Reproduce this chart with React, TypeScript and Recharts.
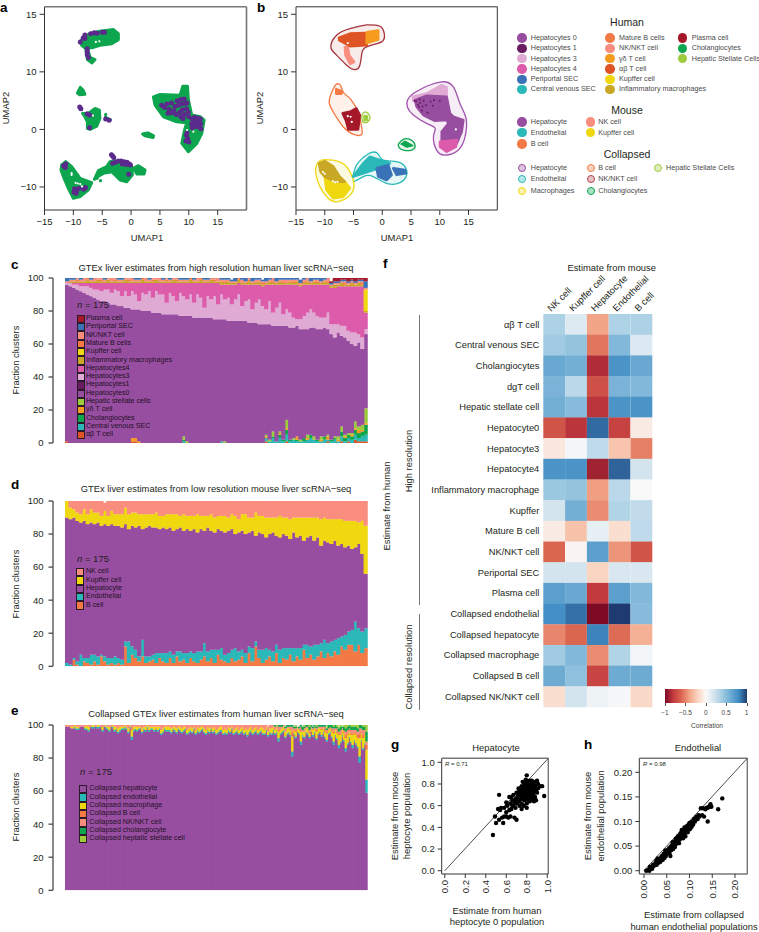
import React from 'react'
import {
  BarChart, Bar, Cell, ScatterChart, Scatter, XAxis, YAxis, ReferenceLine,
} from 'recharts'

// palette shared by the umap panels, stacked bars and legends
const COL = {
  hep0: '#984ea0', hep1: '#6a1b62', hep3: '#dfaad4', hep4: '#dc5cab', peri: '#3a72b8', cv: '#2bb8b8',
  matB: '#f47a45', nk: '#f98d7e', gd: '#f59c1f', ab: '#df5424', kup: '#efd80f', infl: '#c9a825',
  plasma: '#a5182a', chol: '#0da54e', hsc: '#9ccb3c',
}

// ---- panel a: the printed y axis runs 15, 10, 0, -10 at equal spacing, so 20 on the scale is labelled 15
const umapXTicks = [-15, -10, -5, 0, 5, 10, 15]
const umapYTicks = [-10, 0, 10, 20]
const umapYLabels = ['−10', '0', '10', '15']

const greenTop = [[-8.84,15.2],[-8.27,15.95],[-7.1,16.65],[-5.4,17.05],[-3.06,17.34],[-2.2,16.65],[-2.2,15.6],[-3.35,14.9],[-5.4,14.6],[-6.8,14.16],[-7.2,14.3],[-7.46,13.76],[-7.1,12.5],[-6.24,12.14],[-6.8,11.56],[-7.57,12.14],[-7.86,14.05],[-8.55,14.6]]
const greenSmall = [[-9.3,6.3],[-8.8,7.3],[-8.3,6.8],[-8,6.1],[-8.9,6]]
const greenMid = [[-8.4,2.8],[-7.6,2.66],[-6.24,3.64],[-5.5,3.35],[-5.4,1.9],[-5.95,0.58],[-7.1,0],[-7.57,0.17],[-7.57,1.33],[-8,2.2]]
const greenHep = [[3.87,5.66],[5.03,6.07],[8.5,5.95],[8.96,7.5],[9.77,7.5],[9.94,5.09],[10.5,2.49],[11.97,2.2],[12.66,1.62],[12.25,-0.69],[11.39,-2.43],[9.94,-3.87],[8.79,-2.43],[9.2,-0.4],[9.65,1.16],[7.92,1.33],[5.6,2.2],[4.16,4.22]]
const greenChol = [[2,-0.8],[2.9,-0.6],[3.9,-1.1],[3.8,-1.4],[2.4,-1.1]]
const greenKup = [[-12.02,-6.18],[-11.33,-5.6],[-10.29,-6.47],[-8.84,-8.5],[-6.82,-9.25],[-7.4,-10.5],[-8.84,-11.68],[-10,-11.97],[-10.87,-10.23],[-11.73,-8.2],[-12.14,-7.05]]
const greenEndo = [[-6.36,-8.67],[-5.66,-7.17],[-4.22,-6.47],[-3.64,-5.6],[-2.77,-5.43],[-0.75,-5.9],[0.12,-6.47],[0.23,-7.9],[-0.75,-9.08],[-1.9,-8.79],[-3.35,-7.34],[-4.8,-7.63],[-5.8,-8.2]]
const greenEndo2 = [[0.4,-6.76],[1.27,-6.3],[2.43,-7.05],[2.25,-7.75],[1,-7.75]]
const greenDots = [[-4.4,2.6],[-4.4,2.2],[-4,1.9],[-3.6,1.7],[-4.2,1.8],[-3.4,-4.3],[-5.3,-8.9],[-5.9,-8.5]]
const purpleDots = [[5.3,4.2],[5.8,3.8],[6.2,4.4],[6.6,3.5],[7,4.6],[7.4,3.2],[7.6,4],[8,5],[8.2,4.2],[8.6,5.2],[8.8,4.4],[9.2,5.3],[9.4,4.5],[6.4,2.8],[7,2.9],[7.8,2.6],[8.4,3],[8.6,2.2],[9,1.9],[9.2,2.6],[8.9,3.4],[9.6,3.6],[9.9,3],[10,2.2],[9.7,4.6],[10.6,1.8],[11,2.1],[11.5,2],[12,1.8],[10.5,1],[11,1.3],[11.6,1.2],[12.1,1],[10.6,0.3],[11.2,0.5],[11.8,0.4],[12.1,0.1],[9.6,-1],[9.8,-1.6],[9.5,-2],[10,-2.2],[9.7,-0.6],[-2.7,-5.7],[-2.2,-5.5],[-1.7,-5.5],[-1.2,-5.6],[-0.7,-5.7],[-0.3,-6],[-0.1,-6.2],[-1.5,-6],[-0.8,-6.1],[-3.2,-5.9],[-3.4,-4.4],[-3.2,-4.6],[-3,-4.9],[-0.4,-7.8],[-11.7,-6.3],[-11.3,-6],[-11.4,-6.6],[-9.8,-10.3],[-9.4,-10.6],[-9.9,-10.9],[-9.5,-11.1],[-9,-10.2],[-8.2,-10.4],[-7.9,-10.1],[-8,16.4],[-7,16.6],[-6.4,16.8],[-5.9,16.7],[-5,16.9],[-4.6,16.9],[-8,15.8],[-7.6,14],[-7.6,13.5],[-7.6,13],[-7.4,12.5],[-8.8,15.2],[-8.3,15.9],[-8.9,3.9],[-8.7,3.6],[-7.6,2.7],[-7.2,2.5],[-7.2,0.3],[-4.4,1.8],[-3.8,1.6]]
const whiteFlecks = [[-10.3,-7.6],[-10.3,-7.9],[-9.2,-9.4],[-8.8,-9.5],[-8.5,-9.9],[-6.6,2.4],[10.8,-0.4],[9.7,-0.1],[-6.1,15.2],[-5.5,15.3],[-9.6,-9.3]]

// ---- panel b outlines (first point repeated to close) and inner clouds, in umap coordinates
const hullNk = [[-2.73,18.15],[-0.41,17.92],[0.35,16.65],[-0.12,15.2],[-2.73,14.34],[-3.6,12.9],[-4,10.87],[-4.93,10.4],[-6.2,11.16],[-7.95,12.9],[-8.94,14.34],[-7.95,16.36],[-5.63,17.5],[-2.73,18.15]]
const hullB = [[-5.6,5.4],[-4.2,3.06],[-3.6,0.46],[-3.6,-0.87],[-5,-0.87],[-6.8,0.46],[-8.2,2.5],[-9.2,4.5],[-8.9,6.2],[-8.05,7.8],[-7.25,7.6],[-6.8,6.5],[-5.6,5.4]]
const hullStellate = [[-3.54,2.5],[-3,3.06],[-2.25,2.5],[-2.25,1.6],[-3,1.16],[-3.5,1.6],[-3.54,2.5]]
const hullHep = [[7.7,7.5],[10.3,8.27],[12.36,7.4],[13.5,4.5],[14.57,1.9],[14.4,-1.27],[13.2,-3.6],[10.9,-4.45],[9.46,-3.6],[8.9,-1.27],[9.2,0.17],[7.7,1.04],[5.4,2.5],[4.35,3.9],[4.4,5.1],[5.4,6.24],[7.7,7.5]]
const hullChol = [[2.79,-2.54],[3.66,-1.73],[4.82,-1.73],[5.69,-2.72],[5.1,-3.58],[3.66,-3.58],[2.9,-3.12],[2.79,-2.54]]
const hullEndo = [[-3.3,-4.86],[-1.86,-3.99],[-0.7,-4.28],[0.17,-5.32],[2.5,-5.6],[3.95,-6.47],[4.24,-7.92],[3.08,-9.25],[0.75,-9.36],[-1.57,-8.2],[-3.3,-8.2],[-5,-9.08],[-5.05,-7.92],[-4.47,-6.19],[-3.3,-4.86]]
const hullMac = [[-8.53,-5.32],[-6.5,-6.19],[-5.05,-8.79],[-5.34,-11.1],[-7.66,-12.54],[-9.4,-11.97],[-10.85,-9.94],[-11.55,-7.63],[-11.43,-6.19],[-10.56,-5.32],[-8.53,-5.32]]

const cloudAb = [[-7.5,15.95],[-5.6,16.65],[-3,16.76],[-2.7,14.6],[-5.6,14.45],[-7.5,15.5]]
const cloudGd = [[-2.7,16.9],[-0.7,17.2],[-0.7,15.6],[-2.7,15]]
const cloudNkTail = [[-6.5,14.3],[-6,14.3],[-5.75,12.9],[-4.9,11.7],[-5.6,11.4],[-6.4,12.9]]
const cloudMatB = [[-8,7],[-7,6.6],[-7.1,6.2],[-8,6.2]]
const cloudPlasma = [[-6.9,2.8],[-5.6,3.06],[-4.5,3.64],[-3.9,2.5],[-4.2,0],[-5.9,0],[-6.3,1.5]]
const cloudStellate = [[-3.2,2.4],[-2.6,2.4],[-2.5,1.6],[-3.2,1.5]]
const cloudHep3 = [[5.28,5.66],[7.72,6.24],[10.33,7.69],[11.2,7.28],[11.2,5.66],[7.72,5.66],[5.4,4.97]]
const cloudHep0 = [[5.69,5.09],[7.72,5.84],[11.2,5.66],[11.78,2.77],[12.36,2.2],[14.1,1.62],[13.81,-0.4],[12.94,-2.43],[10.33,-2.43],[10.33,-0.4],[11.49,1.04],[11.2,1.62],[9.17,1.5],[7.14,2.49],[5.98,3.93]]
const cloudHep4 = [[10.04,-2.14],[12.94,-1.85],[12.83,-3],[11.2,-3.87],[10.04,-3]]
const cloudChol = [[3.2,-2.54],[3.95,-2],[5.4,-2.83],[4.24,-3.12]]
const cloudCv = [[-5.05,-8.2],[-3.3,-5.9],[-2.15,-4.74],[1.33,-5.9],[-0.7,-6.76],[-3.3,-7.63]]
const cloudPeri1 = [[-1,-6.76],[1.04,-6.2],[1.63,-7.9],[0.75,-8.8],[-0.7,-8.2]]
const cloudPeri2 = [[1.9,-6.76],[3.95,-7.05],[4.12,-7.63],[2.5,-7.9]]
const cloudInfl = [[-11,-5.9],[-10,-5.5],[-8.5,-6.47],[-7.4,-8.2],[-6.5,-9.08],[-8.24,-9.08],[-10,-8.2],[-10.74,-7.34]]
const cloudKup = [[-8.53,-9.08],[-6.5,-9.08],[-5.63,-10.23],[-6.8,-11.68],[-8.53,-11.97],[-9.7,-10.5],[-10,-8.2]]
const darkDots = [[5.9,4.9],[6.6,4.6],[7.2,5],[7.6,4.2],[8.4,4.8],[6.4,3.9],[9,5.1],[10,5],[6.9,3.3],[7.9,2.9],[6.2,4.3],[8.8,4.1],[7,4],[5.6,5],[6.5,5.2]]
const flecksB = [[-10.3,-7.4],[-10,-7.7],[-8.6,-9],[-8.2,-9.2],[-7.8,-9.1],[-6,2.3],[-5.5,2.2],[-5.3,1.3],[-6,15],[12.8,0],[6,-8.1]]

// ---- panel c, 88 columns read left to right
const abT = [1,0,0,0,0,0,0,0,0,0,0,0,0,0,0,0,0,0,0,1,1,0,0,0,0,0,0,0,0,0,0,0,0,0,0,0,0,0,0,0,0,0,0,0,0,0,0,0,0,0,0,0,0,0,0,0,0,0,1,0,0,0,0,0,1,0,0,0,0,0,0,0,0,0,0,0,1,0,0,0,1,0,1,0,2,1,1,1]
const centralVenous = [0,0,0,0,0,0,0,0,0,0,0,0,0,0,0,0,0,0,0,0,0,0,0,0,0,0,0,0,0,0,0,0,0,0,1,0,0,0,0,0,0,0,0,0,0,1,0,0,0,0,0,0,0,0,0,0,0,0,2,1,3,1,3,1,4,1,2,1,1,1,2,3,2,1,1,2,1,1,2,1,3,1,2,2,3,2,3,4]
const cholangio = [0,0,0,0,0,0,0,0,0,0,0,0,0,0,0,0,0,0,0,0,0,0,0,0,0,0,0,0,0,0,0,0,0,0,1,0,0,0,0,0,0,0,0,0,0,0,0,0,0,0,0,0,0,0,0,0,0,0,0,0,1,0,2,1,3,1,0,1,0,2,0,2,0,1,0,2,0,1,1,0,3,2,2,2,3,3,3,6]
const gdT = [0,0,0,0,0,0,0,0,0,0,0,0,0,0,0,0,0,0,0,2,2,1,0,0,0,0,0,0,0,0,0,0,0,0,0,0,0,0,0,0,0,0,0,0,0,0,0,0,0,0,0,0,0,0,0,0,0,0,1,0,0,0,1,0,1,0,0,2,0,0,1,0,0,0,1,0,2,0,0,1,0,1,0,1,1,2,1,1]
const stellate = [0,0,0,0,0,0,0,0,0,0,0,0,0,0,0,0,0,0,0,0,0,0,0,0,0,0,0,0,0,0,0,0,0,0,2,1,0,0,0,0,0,0,0,0,0,0,1,0,0,0,0,0,0,0,0,0,0,0,1,1,3,0,1,0,5,0,1,0,1,0,2,0,2,0,2,0,1,0,1,2,3,1,1,1,4,2,3,9]
const hep0 = [95,95,94,93,92,91,90,89,88,87,86,86,85,84,84,83,83,82,82,78,78,80,80,80,80,79,79,79,78,78,78,78,78,77,73,76,77,76,76,76,76,76,76,75,75,74,74,74,74,74,74,74,74,73,73,73,72,72,67,70,64,70,64,69,57,68,67,67,67,66,64,65,66,67,65,66,64,64,60,63,55,59,56,54,46,51,46,45]
const hep1 = [0,0,0,0,0,0,0,0,0,0,0,0,0,0,0,0,0,0,0,0,0,0,0,0,0,0,0,0,0,0,0,0,0,0,0,0,0,0,0,0,0,0,0,0,0,0,0,0,0,0,0,0,0,0,0,0,0,0,0,0,0,0,0,0,0,0,0,0,0,0,0,0,0,0,0,0,0,0,0,0,0,0,0,0,0,0,0,0]
const hep3 = [1,2,2,3,3,4,5,5,5,6,6,7,8,7,9,9,6,10,7,11,9,5,11,10,12,9,13,11,12,7,13,11,8,14,12,10,13,9,14,12,6,13,11,14,9,15,12,14,10,13,16,9,12,14,8,12,15,11,9,14,8,11,14,7,10,9,6,4,6,8,10,11,9,8,7,6,10,6,8,5,6,7,6,7,8,5,7,3]
const hep4 = [0,0,1,1,2,2,2,3,4,4,5,4,4,6,4,5,8,5,8,5,7,11,6,7,5,9,5,7,7,12,6,8,11,6,8,10,7,12,7,9,15,8,10,8,13,6,9,8,12,9,7,13,10,9,15,11,9,12,15,10,17,14,11,18,15,17,20,21,20,19,17,15,17,19,20,20,17,22,22,23,24,24,27,28,28,29,31,10]
const inflMac = [0,1,1,1,1,1,2,1,1,2,1,1,2,1,1,1,1,2,1,1,1,1,2,1,1,1,2,1,1,1,1,2,1,1,1,1,2,1,1,2,1,1,2,1,1,2,1,2,1,1,2,1,1,2,1,1,2,1,1,2,1,1,2,1,1,2,1,2,1,1,2,1,2,1,1,2,1,1,2,1,2,1,1,2,1,2,1,1]
const kupffer = [0,0,0,0,0,0,0,0,0,0,0,0,0,0,0,0,0,0,0,0,0,0,0,0,0,0,0,0,0,0,0,0,0,0,0,0,0,0,0,0,0,0,0,0,0,0,0,0,0,0,0,0,0,0,0,0,0,0,0,0,0,0,0,0,0,0,0,0,0,0,0,0,0,0,0,0,0,0,0,0,0,0,0,0,0,0,0,13]
const matureB = [0,0,0,1,0,0,1,0,0,0,1,0,0,0,1,0,0,0,1,0,0,0,1,0,0,1,0,0,0,1,0,0,1,0,0,0,1,0,0,1,0,0,0,1,0,0,1,0,0,0,1,0,0,1,0,0,0,1,0,0,1,0,0,1,0,0,1,0,0,1,0,0,0,1,0,0,1,0,0,0,0,1,0,0,0,0,1,0]
const nkNkt = [1,1,1,1,1,2,1,1,2,1,1,1,1,2,1,1,1,1,1,2,1,1,1,2,1,1,1,2,1,1,1,1,2,1,1,1,1,1,2,1,1,1,1,1,2,1,1,1,1,1,1,2,1,1,1,2,1,1,1,1,2,1,1,1,2,1,1,1,1,1,2,1,1,1,1,1,2,1,1,1,1,1,1,1,1,1,1,1]
const periportal = [2,2,2,2,2,2,1,2,2,1,2,2,1,2,3,2,2,1,2,2,3,2,1,2,3,2,2,1,2,3,2,1,2,3,2,1,2,3,2,2,1,2,3,2,1,2,3,2,1,2,3,2,2,1,2,3,2,1,2,2,3,2,1,2,3,2,1,2,2,3,1,2,2,1,2,2,1,1,1,1,1,1,1,1,1,1,1,4]
const plasma = [0,0,0,0,0,0,0,0,0,0,0,0,0,0,0,0,0,0,0,0,0,0,0,0,0,0,0,0,0,0,0,0,0,0,0,0,0,0,0,0,0,0,0,0,0,0,0,0,0,0,0,0,0,0,0,0,0,0,0,0,0,0,0,0,0,0,0,0,0,0,0,0,1,0,0,0,1,1,2,3,3,3,4,3,4,3,3,3]

// ---- panel d
const dBcell = [0,0,4,1,0,3,2,1,3,1,6,3,1,2,1,2,1,12,2,7,5,3,6,2,3,4,2,5,3,2,5,2,6,3,4,2,5,3,2,4,6,3,5,2,7,4,3,2,5,3,4,6,2,8,3,12,5,2,4,6,3,8,2,5,4,7,3,6,4,10,5,7,4,6,9,5,8,6,9,7,12,10,13,13,9,13,8,11]
const dEndo = [2,1,1,2,7,2,3,6,4,5,1,3,4,3,5,3,3,3,13,5,5,3,10,4,3,3,6,3,5,6,4,5,3,6,4,6,4,5,7,5,8,6,5,8,3,7,4,6,5,8,5,4,6,4,8,3,5,8,7,4,6,5,8,6,7,4,8,5,7,3,8,5,9,7,5,11,6,9,7,10,6,9,8,9,18,10,13,12]
const dHep = [88,88,85,85,80,83,81,80,79,81,78,80,80,81,79,80,80,71,68,73,74,79,67,78,79,77,76,75,76,75,75,75,74,75,74,75,73,75,72,74,68,75,72,71,73,71,74,74,73,69,72,72,72,69,71,64,71,70,67,70,72,66,68,69,68,66,70,67,68,63,65,67,63,65,59,60,61,59,60,56,56,53,52,49,45,51,47,33]
const dKup = [10,7,5,5,5,7,6,8,7,6,6,8,6,8,7,7,8,10,9,8,9,7,9,8,7,8,9,8,7,9,8,10,9,7,10,8,9,8,11,8,9,7,10,9,8,9,10,8,9,11,8,10,12,9,8,14,10,11,12,10,9,11,13,10,11,12,9,12,11,14,12,11,14,12,16,14,14,15,13,16,15,16,15,17,16,13,20,29]
const dNk = [0,4,6,8,8,5,8,5,7,7,9,5,9,6,8,8,8,4,8,7,7,8,8,8,8,8,7,9,9,8,8,8,8,9,8,9,9,9,8,9,9,9,8,10,9,9,9,10,8,9,11,8,8,10,10,7,9,9,10,10,10,10,9,10,10,11,10,10,10,10,10,10,10,10,11,10,11,11,11,11,11,12,12,12,12,13,12,15]

// ---- panel e, all 175 columns
const eHep = [99,99,99,98,98,98,97,97,99,99,99,97,97,96,99,98,98,99,98,98,99,96,99,98,97,96,99,98,96,97,95,96,97,97,98,97,95,98,91,96,97,96,97,98,95,97,96,98,96,97,97,96,98,96,97,94,95,97,96,96,96,95,97,96,95,97,96,95,96,97,94,95,96,95,97,94,96,95,96,97,95,94,96,95,97,95,96,94,95,96,96,94,95,94,96,95,97,94,95,96,94,95,96,94,95,93,95,96,94,95,96,94,95,96,94,94,96,93,95,94,96,94,95,90,94,95,96,92,94,95,93,81,94,92,96,94,88,93,92,95,94,92,96,93,95,91,94,96,93,95,92,90,94,95,92,88,93,91,86,89,93,90,84,88,92,89,86,90,88,86,77,90,85,88,59]
const eEndo = [0,0,0,0,0,1,1,1,0,0,0,1,1,1,0,1,1,0,1,1,0,1,0,1,1,1,0,1,1,1,1,1,1,1,1,1,1,1,2,1,1,1,1,0,1,1,1,1,1,1,1,1,0,1,1,1,1,1,1,1,1,1,1,1,1,1,1,1,1,1,1,1,1,1,1,1,1,1,1,1,1,1,1,1,1,1,1,1,1,1,1,1,1,1,1,1,1,1,1,1,1,1,1,1,1,1,1,1,1,1,1,1,1,1,1,1,1,1,1,1,1,1,1,2,1,1,1,1,1,1,1,3,1,1,0,1,2,1,1,1,1,1,0,1,1,1,1,0,1,1,1,1,1,1,1,2,1,1,2,1,1,1,2,1,1,1,2,1,1,1,4,1,1,1,8]
const eMac = [0,0,0,1,1,1,1,1,0,0,0,1,2,2,0,1,1,0,1,1,0,2,0,1,1,2,0,1,2,1,2,2,1,1,1,1,2,1,4,2,1,2,1,1,2,1,2,1,2,1,1,2,1,2,1,2,2,1,2,2,2,2,1,2,2,1,2,2,2,1,2,2,2,2,1,2,2,2,2,1,2,2,2,2,1,2,2,2,2,2,2,2,2,2,2,2,1,2,2,2,2,2,2,2,2,3,2,2,2,2,2,2,2,2,3,2,2,2,2,3,2,2,2,4,2,2,2,3,3,2,3,9,2,3,2,2,6,2,3,2,3,2,2,3,2,4,3,2,3,2,3,4,2,2,3,5,3,3,6,4,3,4,6,5,3,4,6,4,5,5,11,4,6,5,18]
const eB = [0,0,0,0,0,0,0,0,0,0,0,0,0,0,0,0,0,0,0,0,0,0,0,0,0,0,0,0,0,0,0,0,0,0,0,0,0,0,1,0,0,0,0,0,0,0,0,0,0,0,0,0,0,0,0,0,0,0,0,0,0,0,0,0,0,0,0,0,0,0,0,0,0,0,0,0,0,0,0,0,0,0,0,0,0,0,0,0,0,0,0,0,0,0,0,0,0,0,0,0,0,0,0,0,0,0,0,0,0,0,0,0,0,0,0,0,0,0,0,0,0,0,0,1,0,0,0,0,0,0,1,3,0,1,0,0,1,0,0,0,0,1,0,0,0,1,0,0,1,0,1,1,0,0,1,1,0,1,1,1,0,1,2,1,1,1,1,1,1,2,3,1,2,1,3]
const eNk = [1,1,1,1,1,1,1,1,1,1,1,1,1,1,1,1,1,1,1,1,1,1,1,1,1,1,1,1,1,1,2,1,1,1,1,1,2,1,2,1,1,1,1,1,2,1,1,1,1,1,1,1,1,1,1,3,2,1,1,1,1,2,1,1,2,1,1,2,1,1,3,2,1,2,1,3,1,2,1,1,2,3,1,2,1,2,1,3,2,1,1,3,2,3,1,2,1,3,2,1,3,2,1,3,2,3,2,1,3,2,1,3,2,1,2,3,1,3,2,2,1,2,1,2,2,1,1,2,1,1,1,3,1,1,1,1,2,1,2,1,1,1,1,1,1,1,1,1,1,1,2,1,1,1,1,2,1,2,1,2,1,1,2,2,1,2,2,1,2,2,3,2,3,2,2]
const eChol = [0,0,0,0,0,0,0,0,0,0,0,0,0,0,0,0,0,0,0,0,0,0,0,0,0,0,0,0,0,0,0,0,0,0,0,0,0,0,0,0,0,0,0,0,0,0,0,0,0,0,0,0,0,0,0,0,0,0,0,0,0,0,0,0,0,0,0,0,0,0,0,0,0,0,0,0,0,0,0,0,0,0,0,0,0,0,0,0,0,0,0,0,0,0,0,0,0,0,0,0,0,0,0,0,0,0,0,0,0,0,0,0,1,0,0,0,0,0,0,0,0,1,0,1,1,1,0,1,1,1,1,1,1,1,0,1,1,2,1,1,1,2,1,1,1,1,1,1,1,1,1,1,2,1,2,1,2,1,2,2,1,2,2,2,2,2,2,2,2,2,2,2,2,2,6]
const eStellate = [0,0,0,0,0,0,0,0,0,0,0,0,0,0,0,0,0,0,0,0,0,0,0,0,0,0,0,0,0,0,0,0,0,0,0,0,0,0,0,0,0,0,0,0,0,0,0,0,0,0,0,0,0,0,0,0,0,0,0,0,0,0,0,0,0,0,0,0,0,0,0,0,0,0,0,0,0,0,0,0,0,0,0,0,0,0,0,0,0,0,0,0,0,0,0,0,0,0,0,0,0,0,0,0,0,0,0,0,0,0,0,0,0,0,0,0,0,0,0,0,0,0,1,0,0,0,1,0,0,0,1,0,0,1,0,0,0,0,1,0,0,1,0,0,0,1,0,0,0,1,0,1,0,0,0,1,0,1,1,2,0,1,2,1,1,2,1,2,1,2,1,2,2,3,4]

// ---- panel f, correlation per column, one value per row
const heatRows = ['αβ T cell','Central venous SEC','Cholangiocytes','dgT cell','Hepatic stellate cell','Hepatocyte0','Hepatocyte3','Hepatocyte4','Inflammatory macrophage','Kupffer','Mature B cell','NK/NKT cell','Periportal SEC','Plasma cell','Collapsed endothelial','Collapsed hepatocyte','Collapsed macrophage','Collapsed B cell','Collapsed NK/NKT cell']
const heatCols = ['NK cell','Kupffer cell','Hepatocyte','Endothelial','B cell']
const heatNk = [0.35,0.4,0.62,0.55,0.58,-0.68,-0.1,0.75,0.42,0.2,-0.08,-0.6,0.2,0.68,0.78,-0.5,0.4,0.6,-0.15]
const heatKup = [0.14,0.45,0.58,0.3,0.5,-0.82,0.03,0.75,0.45,0.58,-0.28,-0.03,0.2,0.62,0.87,-0.6,0.52,0.47,0.2]
const heatHep = [-0.4,-0.55,-0.85,-0.7,-0.82,0.88,0.28,-0.9,-0.42,-0.48,0.1,0.68,-0.2,-0.8,-1,0.82,-0.48,-0.75,0.06]
const heatEndo = [0.34,0.52,0.75,0.55,0.75,-0.76,-0.27,0.9,0.3,0.33,-0.15,-0.45,0.17,0.68,1,-0.58,0.33,0.6,0.02]
const heatB = [0.35,0.15,0.62,0.52,0.75,-0.08,-0.52,0.2,0,0.27,0.28,-0.68,0.17,0.52,0.5,-0.35,0.03,0.6,-0.18]
const heatStops = [[-1,'#7d0b25'],[-0.8,'#c23a3e'],[-0.6,'#db6650'],[-0.4,'#f3a587'],[-0.2,'#fad5c2'],[0,'#f9f9f9'],[0.2,'#d3e4ef'],[0.4,'#a0cbe2'],[0.6,'#6eabd3'],[0.8,'#3f8cc3'],[1,'#1f3a70']] as [number, string][]

// ---- panels g and h
const scatterHep = [[.47,.33],[.49,.5],[.5,.44],[.53,.7],[.53,.47],[.54,.56],[.55,.58],[.56,.49],[.57,.44],[.58,.58],[.6,.54],[.6,.5],[.61,.6],[.62,.49],[.63,.68],[.64,.62],[.64,.5],[.65,.57],[.66,.65],[.67,.7],[.67,.6],[.68,.49],[.69,.66],[.69,.58],[.7,.47],[.7,.72],[.7,.62],[.71,.68],[.72,.76],[.72,.64],[.73,.6],[.73,.7],[.74,.66],[.74,.72],[.75,.78],[.75,.62],[.75,.57],[.76,.74],[.76,.68],[.76,.82],[.77,.6],[.77,.7],[.77,.76],[.78,.65],[.78,.8],[.78,.72],[.79,.76],[.79,.68],[.79,.84],[.8,.88],[.8,.62],[.8,.58],[.8,.74],[.8,.7],[.8,.8],[.81,.66],[.81,.76],[.81,.72],[.82,.78],[.82,.68],[.82,.82],[.83,.74],[.83,.7],[.83,.64],[.84,.8],[.84,.76],[.84,.72],[.84,.68],[.85,.83],[.85,.66],[.85,.78],[.85,.74],[.86,.7],[.86,.8],[.87,.76],[.87,.72],[.87,.64],[.88,.82],[.88,.68],[.88,.78],[.89,.74],[.89,.65],[.9,.83],[.9,.72],[.91,.8],[.91,.76],[.93,.78],[.95,.78],[.97,.69],[.78,.74],[.79,.73],[.77,.73],[.76,.77],[.83,.77],[.82,.75],[.8,.77],[.81,.79],[.74,.7],[.72,.7],[.68,.63],[.66,.6],[.63,.56],[.75,.7],[.86,.75],[.84,.7],[.87,.79],[.78,.78],[.73,.74],[.71,.72],[.7,.67],[.65,.68],[.6,.63],[.58,.5],[.52,.57],[.8,.83],[.83,.83],[.76,.72],[.79,.7],[.74,.76],[.79,.79],[.86,.67],[.8,.66],[.77,.66]]
const scatterEndo = [[.005,0],[.01,.002],[.012,0],[.015,.005],[.013,.008],[.018,.004],[.02,.012],[.022,.01],[.025,.015],[.027,.02],[.028,.012],[.03,.022],[.032,.016],[.034,.024],[.036,.018],[.038,.028],[.04,.03],[.041,.022],[.043,.034],[.045,.026],[.046,.036],[.048,.03],[.05,.04],[.05,.034],[.052,.042],[.054,.038],[.055,.046],[.056,.036],[.058,.03],[.058,.048],[.06,.05],[.06,.042],[.062,.052],[.064,.044],[.065,.056],[.066,.05],[.068,.048],[.068,.06],[.07,.062],[.07,.054],[.072,.056],[.073,.066],[.074,.06],[.075,.07],[.076,.062],[.077,.056],[.078,.07],[.079,.064],[.08,.075],[.08,.068],[.082,.078],[.082,.07],[.084,.072],[.085,.082],[.085,.076],[.086,.066],[.087,.08],[.088,.074],[.09,.085],[.09,.078],[.091,.07],[.092,.082],[.093,.09],[.094,.08],[.095,.086],[.096,.078],[.097,.09],[.098,.094],[.1,.084],[.1,.092],[.102,.086],[.104,.098],[.105,.09],[.106,.1],[.108,.094],[.11,.105],[.112,.1],[.115,.11],[.118,.105],[.12,.113],[.122,.11],[.125,.127],[.128,.113],[.13,.127],[.132,.11],[.135,.125],[.138,.128],[.14,.1],[.14,.128],[.143,.13],[.146,.135],[.148,.13],[.163,.125],[.172,.147],[.03,.025],[.07,.065],[.083,.083],[.089,.088],[.1,.097],[.047,.041],[.063,.058]]
const unitTicks = [0, 0.2, 0.4, 0.6, 0.8, 1]
const endoTicks = [0, 0.05, 0.1, 0.15, 0.2]

const legendHuman = [
  ['Hepatocytes 0', COL.hep0], ['Hepatocytes 1', COL.hep1], ['Hepatocytes 3', COL.hep3], ['Hepatocytes 4', COL.hep4], ['Periportal SEC', COL.peri], ['Central venous SEC', COL.cv],
  ['Mature B cells', COL.matB], ['NK/NKT cell', COL.nk], ['γδ T cell', COL.gd], ['αβ T cell', COL.ab], ['Kupffer cell', COL.kup], ['Inflammatory macrophages', COL.infl],
  ['Plasma cell', COL.plasma], ['Cholangiocytes', COL.chol], ['Hepatic Stellate Cells', COL.hsc],
]
const legendMouse = [['Hepatocyte', COL.hep0], ['Endothelial', COL.cv], ['B cell', COL.matB], ['NK cell', COL.nk], ['Kupffer cell', COL.kup]]
const legendCollapsed = [['Hepatocyte', COL.hep0], ['Endothelial', COL.cv], ['Macrophages', COL.kup], ['B cell', COL.matB], ['NK/NKT cell', '#b5444f'], ['Cholangiocytes', COL.chol], ['Hepatic Stellate Cells', COL.hsc]]

const seriesC = [
  { key: 'ab', values: abT, color: COL.ab }, { key: 'cv', values: centralVenous, color: COL.cv }, { key: 'chol', values: cholangio, color: COL.chol },
  { key: 'gd', values: gdT, color: COL.gd }, { key: 'hsc', values: stellate, color: COL.hsc }, { key: 'hep0', values: hep0, color: COL.hep0 },
  { key: 'hep1', values: hep1, color: COL.hep1 }, { key: 'hep3', values: hep3, color: COL.hep3 }, { key: 'hep4', values: hep4, color: COL.hep4 },
  { key: 'infl', values: inflMac, color: COL.infl }, { key: 'kup', values: kupffer, color: COL.kup }, { key: 'matB', values: matureB, color: COL.matB },
  { key: 'nk', values: nkNkt, color: COL.nk }, { key: 'peri', values: periportal, color: COL.peri }, { key: 'plasma', values: plasma, color: COL.plasma },
]
const seriesD = [
  { key: 'b', values: dBcell, color: COL.matB }, { key: 'endo', values: dEndo, color: COL.cv }, { key: 'hep', values: dHep, color: COL.hep0 },
  { key: 'kup', values: dKup, color: COL.kup }, { key: 'nk', values: dNk, color: COL.nk },
]
const seriesE = [
  { key: 'hep', values: eHep, color: COL.hep0 }, { key: 'endo', values: eEndo, color: COL.cv }, { key: 'mac', values: eMac, color: COL.kup },
  { key: 'b', values: eB, color: COL.matB }, { key: 'nk', values: eNk, color: COL.nk }, { key: 'chol', values: eChol, color: COL.chol }, { key: 'hsc', values: eStellate, color: COL.hsc },
]
const legendC = [['Plasma cell', COL.plasma], ['Periportal SEC', COL.peri], ['NK/NKT cell', COL.nk], ['Mature B cells', COL.matB], ['Kupffer cell', COL.kup], ['Inflammatory macrophages', COL.infl], ['Hepatocytes4', COL.hep4], ['Hepatocytes3', COL.hep3], ['Hepatocytes1', COL.hep1], ['Hepatocytes0', COL.hep0], ['Hepatic stellate cells', COL.hsc], ['γδ T cell', COL.gd], ['Cholangiocytes', COL.chol], ['Central venous SEC', COL.cv], ['αβ T cell', COL.ab]]
const legendD = [['NK cell', COL.nk], ['Kupffer cell', COL.kup], ['Hepatocyte', COL.hep0], ['Endothelial', COL.cv], ['B cell', COL.matB]]
const legendE = [['Collapsed hepatocyte', COL.hep0], ['Collapsed endothelial', COL.cv], ['Collapsed macrophage', COL.kup], ['Collapsed B cell', COL.matB], ['Collapsed NK/NKT cell', COL.nk], ['Collapsed cholangiocyte', COL.chol], ['Collapsed heptatic stellate cell', COL.hsc]]

const toPoints = (pairs: number[][]) => pairs.map(([x, y]) => ({ x, y }))
const minus = (v: number) => String(v).replace('-', '−')
const noShape = () => null

function heatColor(v: number) {
  for (let i = 1; i < heatStops.length; i++) {
    if (v <= heatStops[i][0]) {
      const [a, ca] = heatStops[i - 1]
      const [b, cb] = heatStops[i]
      const t = (v - a) / (b - a)
      const mix = [1, 3, 5].map((p) => {
        const s = parseInt(ca.slice(p, p + 2), 16)
        const e = parseInt(cb.slice(p, p + 2), 16)
        return Math.round(s + (e - s) * t)
      })
      return `rgb(${mix.join(',')})`
    }
  }
  return heatStops[heatStops.length - 1][1]
}

function Txt({ x, y, size = 9.4, anchor = 'middle', rot = 0, bold = false, color = '#231f20', children }: any) {
  const tx = anchor === 'middle' ? '-50%' : anchor === 'end' ? '-100%' : '0'
  return (
    <div style={{
      position: 'absolute', left: x, top: y, fontSize: size, lineHeight: 1, whiteSpace: 'nowrap', color,
      fontWeight: bold ? 700 : 400, transform: `translate(${tx},-50%) rotate(${rot}deg)`,
    }}>{children}</div>
  )
}

function Dot({ x, y, color, ring = false }: any) {
  const r = ring ? 4.2 : 4.7
  return (
    <div style={{
      position: 'absolute', left: x - r, top: y - r, width: r * 2, height: r * 2, borderRadius: '50%', boxSizing: 'border-box',
      background: ring ? `${color}55` : color, border: ring ? `1.3px solid ${color}` : 'none',
    }} />
  )
}

function DotLegend({ items, slots, ring = false }: any) {
  return items.map(([label, color]: any, i: number) => {
    const [cx, tx, y] = slots[i]
    return (
      <React.Fragment key={label + i}>
        <Dot x={cx} y={y} color={color} ring={ring} />
        <Txt x={tx} y={y} size={7.2} anchor="start" color="#4a4a4a">{label}</Txt>
      </React.Fragment>
    )
  })
}

function SwatchLegend({ items, x, y, step, w, textX }: any) {
  return items.map(([label, color]: any, i: number) => (
    <React.Fragment key={label}>
      <div style={{ position: 'absolute', left: x, top: y + i * step - step / 2, width: w, height: step, boxSizing: 'border-box', background: color, border: '1px solid #2a1a2a' }} />
      <Txt x={textX} y={y + i * step} size={7.1} anchor="start" color="#1f1026">{label}</Txt>
    </React.Fragment>
  ))
}

function Hull({ pts, fill, stroke, type = 'linearClosed', width = 1 }: any) {
  return (
    <Scatter
      data={toPoints(pts)}
      shape={noShape}
      line={{ fill, stroke: stroke || fill, strokeWidth: width, strokeLinejoin: 'round' }}
      lineJointType={type}
      isAnimationActive={false}
    />
  )
}

function Dots({ pts, color, r }: any) {
  return (
    <Scatter
      data={toPoints(pts)}
      shape={(p: any) => <circle cx={p.cx} cy={p.cy} r={r} fill={color} />}
      isAnimationActive={false}
    />
  )
}

function UmapChart({ left, yWidth, right, frame, children }: any) {
  return (
    <div style={{ position: 'absolute', left, top: 0 }}>
      <ScatterChart width={250} height={240} margin={{ top: 6.8, right, bottom: 5, left: 0 }}>
        <XAxis type="number" dataKey="x" domain={[-15, 20]} ticks={umapXTicks} interval={0} tickFormatter={minus} height={25} tickSize={5} tickMargin={3}
          tick={{ fontSize: 9.5, fill: '#231f20' }} stroke="#333" />
        <YAxis type="number" dataKey="y" domain={[-14, 21.3]} ticks={umapYTicks} interval={0} tickFormatter={(v: number) => umapYLabels[umapYTicks.indexOf(v)]} width={yWidth} tickSize={5} tickMargin={3}
          tick={{ fontSize: 9.5, fill: '#231f20' }} stroke="#333" />
        <ReferenceLine x={20} stroke={frame} strokeWidth={frame === '#333' ? 1 : 1.6} />
        <ReferenceLine y={21.3} stroke={frame} strokeWidth={frame === '#333' ? 1 : 1.6} />
        {children}
      </ScatterChart>
    </div>
  )
}

function StackPanel({ top, plotH, series, seam }: any) {
  const rows = series[0].values.map((_: number, i: number) => {
    const row: any = { i }
    series.forEach((s: any) => { row[s.key] = s.values[i] })
    return row
  })
  // recharts floors the bar width, so widen each column to close (or, in e, just narrow) the gap to the next one
  const extra = seam ? 0.45 : 1.2
  return (
    <div style={{ position: 'absolute', left: 0, top: top - 8 }}>
      <BarChart width={368} height={plotH + 20} data={rows} margin={{ top: 8, right: 1, bottom: 12, left: 0 }} barCategoryGap={0} barGap={0}>
        <XAxis dataKey="i" hide padding={{ left: 12, right: 0 }} />
        <YAxis type="number" domain={[0, 100]} ticks={[0, 20, 40, 60, 80, 100]} interval={0} allowDataOverflow width={53} tickSize={4.5} tickMargin={5}
          tick={{ fontSize: 9.5, fill: '#231f20' }} stroke="#555" strokeWidth={1.4} />
        {series.map((s: any) => (
          <Bar key={s.key} dataKey={s.key} stackId="a" fill={s.color} isAnimationActive={false}
            shape={(p: any) => <rect x={p.x} y={p.y} width={p.width + extra} height={p.height} fill={s.color} />} />
        ))}
      </BarChart>
    </div>
  )
}

function RotTick({ x, y, payload, digits }: any) {
  return (
    <text x={x} y={y} dy={3.4} textAnchor="end" fontSize={9.5} fill="#231f20" transform={`rotate(-90 ${x} ${y})`}>
      {payload.value.toFixed(digits)}
    </text>
  )
}

function CorrPanel({ left, yWidth, pts, xTicks, yTicks, xDomain, yDomain, digits, plotW, r = 2.2 }: any) {
  const [x1, y1] = [xDomain[1], yDomain[1]]
  return (
    <div style={{ position: 'absolute', left, top: 750 }}>
      <ScatterChart width={yWidth + plotW + 8} height={150} margin={{ top: 8.3, right: 8, bottom: 2, left: 0 }}>
        <XAxis type="number" dataKey="x" domain={xDomain} ticks={xTicks} interval={0} height={24} tickSize={4} stroke="#333"
          tick={(p: any) => <RotTick {...p} digits={digits} />} />
        <YAxis type="number" dataKey="y" domain={yDomain} ticks={yTicks} interval={0} width={yWidth} tickSize={4} tickMargin={3}
          tickFormatter={(v: number) => v.toFixed(digits)} tick={{ fontSize: 9.5, fill: '#231f20' }} stroke="#333" />
        <ReferenceLine x={x1} stroke="#777" strokeWidth={1.4} />
        <ReferenceLine y={y1} stroke="#777" strokeWidth={1.4} />
        <ReferenceLine segment={[{ x: 0, y: 0 }, { x: x1, y: y1 }]} stroke="#231f20" strokeWidth={0.8} />
        <Scatter data={toPoints(pts)} isAnimationActive={false}
          shape={(p: any) => <circle cx={p.cx} cy={p.cy} r={r} fill="#000" />} />
      </ScatterChart>
    </div>
  )
}

function HeatPanel() {
  const cols = [heatNk, heatKup, heatHep, heatEndo, heatB]
  const rows = heatRows.map((row) => ({ row, c0: 1, c1: 1, c2: 1, c3: 1, c4: 1 }))
  return (
    <div style={{ position: 'absolute', left: 420, top: 230 }}>
      <BarChart width={240} height={482} layout="vertical" data={rows} barCategoryGap={0} margin={{ top: 14, right: 7.7, bottom: 5, left: 0 }}>
        <XAxis type="number" orientation="top" domain={[0, 5]} ticks={[0.5, 1.5, 2.5, 3.5, 4.5]} interval={0} height={70} axisLine={false} tickLine={false} tickSize={0} tickMargin={0}
          tick={({ x, y, payload }: any) => (
            <text x={x - 3} y={y - 2} textAnchor="start" fontSize={9.3} fill="#231f20" transform={`rotate(-45 ${x - 3} ${y - 2})`}>
              {heatCols[payload.value - 0.5]}
            </text>
          )} />
        <YAxis type="category" dataKey="row" width={123.3} interval={0} axisLine={false} tickLine={false} tickSize={0} tickMargin={4}
          tick={({ x, y, payload }: any) => (
            <text x={x} y={y} dy={3.2} textAnchor="end" fontSize={9.3} fill="#231f20">{payload.value}</text>
          )} />
        {cols.map((col, c) => (
          <Bar key={c} dataKey={`c${c}`} stackId="h" isAnimationActive={false}>
            {col.map((v, i) => <Cell key={i} fill={heatColor(v)} />)}
          </Bar>
        ))}
      </BarChart>
    </div>
  )
}

export default function App() {
  const humanSlots = [
    [522, 530.7, 38], [522, 530.7, 48.3], [522, 530.7, 58.7], [522, 530.7, 69], [522, 530.7, 79.3], [522, 530.7, 89.3],
    [610, 619, 38], [610, 619, 48.3], [610, 619, 58.7], [610, 619, 69], [610, 619, 79.3], [610, 619, 89.3],
    [682.7, 691.7, 38], [682.7, 691.7, 48.3], [682.7, 691.7, 58.7],
  ]
  const mouseSlots = [[522, 530.7, 122], [522, 530.7, 132.7], [522, 530.7, 144], [590.7, 598.3, 122], [590.7, 598.3, 132.7]]
  const collapsedSlots = [[522, 530.7, 168], [522, 530.7, 179.3], [522, 530.7, 190.7], [590.7, 598.3, 168], [590.7, 598.3, 179.3], [590.7, 598.3, 190.7], [657.7, 666, 168]]
  const stops = heatStops.map(([v, c]) => `${c} ${((v + 1) / 2) * 100}%`).join(',')
  const green = { fill: COL.chol, width: 3 }
  const cloud = { width: 2.5 }
  const outline = { type: 'natural', width: 1.3 }

  return (
    <div style={{ position: 'absolute', left: 0, top: 0, width: 759, height: 932, fontFamily: '"Liberation Sans", Arial, sans-serif', overflow: 'hidden', background: '#fff' }}>
      <UmapChart left={0} yWidth={44.5} right={3.5} frame="#777">
        {Hull({ pts: greenTop, ...green })}
        {Hull({ pts: greenSmall, ...green })}
        {Hull({ pts: greenMid, ...green })}
        {Hull({ pts: greenHep, ...green })}
        {Hull({ pts: greenChol, ...green })}
        {Hull({ pts: greenKup, ...green })}
        {Hull({ pts: greenEndo, ...green })}
        {Hull({ pts: greenEndo2, ...green })}
        {Dots({ pts: greenDots, color: COL.chol, r: 1.6 })}
        {Dots({ pts: purpleDots, color: '#5b2a8c', r: 2.5 })}
        {Dots({ pts: whiteFlecks, color: '#fff', r: 1.1 })}
      </UmapChart>

      <UmapChart left={250} yWidth={46} right={2.7} frame="#333">
        {Hull({ pts: hullNk, fill: '#f8ecea', stroke: '#a5343c', ...outline })}
        {Hull({ pts: hullB, fill: '#fdf1ea', stroke: '#f47a45', ...outline })}
        {Hull({ pts: hullStellate, fill: '#f1f8e2', stroke: COL.hsc, ...outline })}
        {Hull({ pts: hullHep, fill: '#f6edf6', stroke: '#a052ac', ...outline })}
        {Hull({ pts: hullChol, fill: '#e5f6ec', stroke: COL.chol, ...outline })}
        {Hull({ pts: hullEndo, fill: '#e6f7f7', stroke: COL.cv, ...outline })}
        {Hull({ pts: hullMac, fill: '#fdfae2', stroke: COL.kup, ...outline })}
        {Hull({ pts: cloudNkTail, fill: COL.nk, ...cloud })}
        {Hull({ pts: cloudAb, fill: COL.ab, ...cloud })}
        {Hull({ pts: cloudGd, fill: COL.gd, ...cloud })}
        {Hull({ pts: cloudMatB, fill: COL.matB, ...cloud })}
        {Hull({ pts: cloudPlasma, fill: COL.plasma, ...cloud })}
        {Hull({ pts: cloudStellate, fill: COL.hsc, width: 1 })}
        {Hull({ pts: cloudHep3, fill: COL.hep3, ...cloud })}
        {Hull({ pts: cloudHep0, fill: COL.hep0, ...cloud })}
        {Hull({ pts: cloudHep4, fill: COL.hep4, ...cloud })}
        {Hull({ pts: cloudChol, fill: COL.chol, width: 1 })}
        {Hull({ pts: cloudCv, fill: COL.cv, ...cloud })}
        {Hull({ pts: cloudPeri1, fill: COL.peri, ...cloud })}
        {Hull({ pts: cloudPeri2, fill: COL.peri, ...cloud })}
        {Hull({ pts: cloudKup, fill: COL.kup, ...cloud })}
        {Hull({ pts: cloudInfl, fill: COL.infl, ...cloud })}
        {Dots({ pts: darkDots, color: COL.hep1, r: 1 })}
        {Dots({ pts: flecksB, color: '#fff', r: 1.1 })}
      </UmapChart>

      <StackPanel top={277.7} plotH={165} series={seriesC} />
      <StackPanel top={501} plotH={165.3} series={seriesD} />
      <StackPanel top={725} plotH={165.3} series={seriesE} seam />
      <HeatPanel />
      <CorrPanel left={400} yWidth={41.7} plotW={106.6} pts={scatterHep} xTicks={unitTicks} yTicks={unitTicks} xDomain={[-0.03, 1.01]} yDomain={[-0.03, 1.037]} digits={1} />
      <CorrPanel left={598} yWidth={41.3} plotW={108} pts={scatterEndo} xTicks={endoTicks} yTicks={endoTicks} xDomain={[-0.0103, 0.227]} yDomain={[-0.0067, 0.2285]} digits={2} />

      {/* panel letters */}
      <Txt x={0} y={8} size={13.5} bold anchor="start" color="#000">a</Txt>
      <Txt x={257} y={8} size={13.5} bold anchor="start" color="#000">b</Txt>
      <Txt x={11} y={265} size={13.5} bold anchor="start" color="#000">c</Txt>
      <Txt x={11} y={485} size={13.5} bold anchor="start" color="#000">d</Txt>
      <Txt x={11} y={711} size={13.5} bold anchor="start" color="#000">e</Txt>
      <Txt x={383} y={264} size={13.5} bold anchor="start" color="#000">f</Txt>
      <Txt x={391} y={745} size={13.5} bold anchor="start" color="#000">g</Txt>
      <Txt x={584} y={745} size={13.5} bold anchor="start" color="#000">h</Txt>

      {/* umap axis titles */}
      <Txt x={147} y={238}>UMAP1</Txt>
      <Txt x={397} y={238}>UMAP1</Txt>
      <Txt x={6} y={108} rot={-90}>UMAP2</Txt>
      <Txt x={260} y={108} rot={-90}>UMAP2</Txt>

      {/* umap legend */}
      <Txt x={627} y={22} size={10.5}>Human</Txt>
      <DotLegend items={legendHuman} slots={humanSlots} />
      <Txt x={627} y={110} size={10.5}>Mouse</Txt>
      <DotLegend items={legendMouse} slots={mouseSlots} />
      <Txt x={627} y={154} size={10.5}>Collapsed</Txt>
      <DotLegend items={legendCollapsed} slots={collapsedSlots} ring />

      {/* stacked panels */}
      <Txt x={216} y={268}>GTEx liver estimates from high resolution human liver scRNA−seq</Txt>
      <Txt x={216} y={489}>GTEx liver estimates from low resolution mouse liver scRNA−seq</Txt>
      <Txt x={216} y={714}>Collapsed GTEx liver estimates from human liver scRNA−seq</Txt>
      <Txt x={16} y={360} rot={-90}>Fraction clusters</Txt>
      <Txt x={16} y={584} rot={-90}>Fraction clusters</Txt>
      <Txt x={16} y={807} rot={-90}>Fraction clusters</Txt>
      <Txt x={77} y={305} size={9.5} anchor="start"><i>n</i> = 175</Txt>
      <Txt x={77} y={559} size={9.5} anchor="start"><i>n</i> = 175</Txt>
      <Txt x={80} y={771.7} size={9.5} anchor="start"><i>n</i> = 175</Txt>
      <SwatchLegend items={legendC} x={76.5} y={319} step={8.3} w={8} textX={86} />
      <SwatchLegend items={legendD} x={76} y={572.3} step={8.3} w={8} textX={86} />
      <SwatchLegend items={legendE} x={79} y={789.3} step={8.3} w={8.3} textX={89.3} />

      {/* heatmap annotations */}
      <Txt x={611.7} y={267.7}>Estimate from mouse</Txt>
      <Txt x={387} y={506} rot={-90}>Estimate from human</Txt>
      <Txt x={409} y={461} rot={-90}>High resolution</Txt>
      <Txt x={409} y={667} rot={-90}>Collapsed resolution</Txt>
      <div style={{ position: 'absolute', left: 419, top: 315, width: 1.4, height: 290, background: '#777' }} />
      <div style={{ position: 'absolute', left: 419, top: 614, width: 1.4, height: 96, background: '#777' }} />
      <div style={{ position: 'absolute', left: 665, top: 689, width: 82, height: 13.7, background: `linear-gradient(to right,${stops})` }} />
      {[[-1, '−1'], [-0.5, '−0.5'], [0, '0'], [0.5, '0.5'], [1, '1']].map(([v, label]: any) => (
        <React.Fragment key={label}>
          <div style={{ position: 'absolute', left: 665 + ((v + 1) / 2) * 81.5, top: 702.7, width: 0.7, height: 3, background: '#555' }} />
          <Txt x={665 + ((v + 1) / 2) * 81.5} y={713} size={6.5} color="#444">{label}</Txt>
        </React.Fragment>
      ))}
      <Txt x={707} y={725.7} size={6.5} color="#444">Correlation</Txt>

      {/* scatter annotations */}
      <Txt x={496} y={748}>Hepatocyte</Txt>
      <Txt x={698} y={748}>Endothelial</Txt>
      <Txt x={445} y={763.5} size={6} anchor="start"><i>R</i> = 0.71</Txt>
      <Txt x={643} y={764} size={6} anchor="start"><i>R</i> = 0.98</Txt>
      <Txt x={395} y={816} rot={-90}>Estimate from mouse</Txt>
      <Txt x={407} y={816} rot={-90}>heptocyte population</Txt>
      <Txt x={588} y={816} rot={-90}>Estimate from mouse</Txt>
      <Txt x={600.7} y={816} rot={-90}>endothelial population</Txt>
      <Txt x={497} y={910.7}>Estimate from human</Txt>
      <Txt x={497} y={921.7}>heptocyte 0 population</Txt>
      <Txt x={694} y={915}>Estimate from collapsed</Txt>
      <Txt x={694} y={926.7}>human endothelial populations</Txt>
    </div>
  )
}
